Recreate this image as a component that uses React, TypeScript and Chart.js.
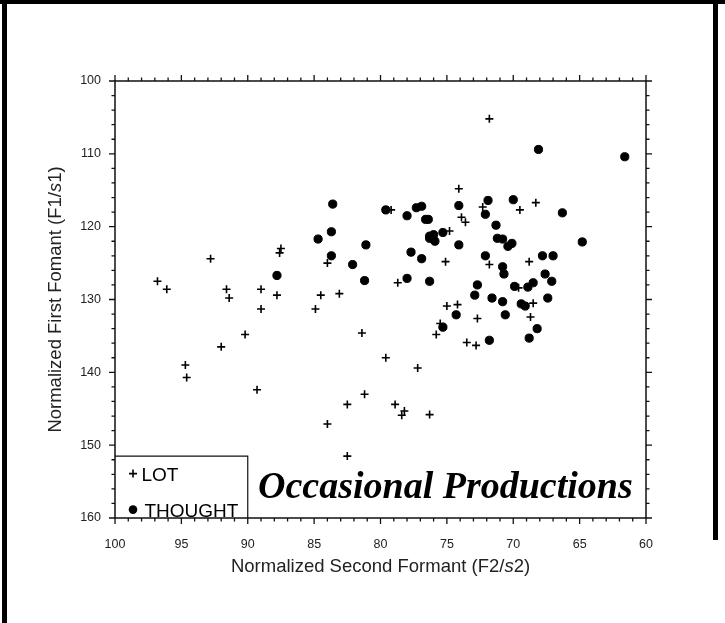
import React, { useEffect, useRef } from "react";
import { Chart, registerables } from "chart.js";
Chart.register(...registerables);

// LOT tokens: normalized F2 (x) and F1 (y)
const lotF2 = [71.8, 74.1, 79.2, 72.3, 73.9, 73.6, 74.8, 84.0, 75.1, 71.8, 69.5, 68.3, 68.8, 96.8, 96.1, 91.6, 91.4, 89.0, 89.0, 87.8, 92.8, 87.5, 87.6, 90.2, 92.0, 94.7, 94.6, 89.3, 78.7, 84.5, 83.1, 84.9, 75.0, 74.2, 75.5, 75.8, 72.7, 73.5, 72.8, 81.4, 79.6, 77.2, 81.2, 82.5, 78.9, 78.2, 78.4, 76.3, 84.0, 82.5, 69.6, 68.5, 68.7];
const lotF1 = [105.2, 114.8, 117.7, 117.3, 118.7, 119.4, 120.6, 125.0, 124.8, 125.2, 117.7, 116.7, 124.8, 127.5, 128.6, 128.6, 129.8, 128.6, 131.3, 129.4, 124.4, 123.0, 123.6, 134.8, 136.5, 139.0, 140.7, 142.4, 127.7, 129.4, 129.2, 131.3, 130.9, 130.7, 133.3, 134.8, 132.6, 135.9, 136.3, 134.6, 138.0, 139.4, 143.0, 144.4, 144.4, 145.3, 145.9, 145.8, 147.1, 151.5, 128.4, 130.5, 132.4];

// THOUGHT tokens
const thoughtF2 = [83.6, 79.6, 78.0, 77.3, 76.9, 74.1, 71.9, 72.1, 76.6, 76.4, 71.3, 71.2, 83.7, 84.7, 81.1, 76.3, 76.0, 76.3, 75.9, 75.3, 74.1, 83.7, 77.7, 76.9, 82.1, 72.1, 68.1, 61.6, 70.0, 66.3, 70.8, 70.4, 70.1, 64.8, 70.8, 67.8, 67.0, 87.8, 81.2, 78.0, 76.3, 72.7, 72.9, 71.6, 74.3, 75.3, 71.8, 70.7, 67.6, 67.1, 69.9, 68.9, 68.5, 70.8, 69.4, 69.1, 67.4, 70.6, 68.2, 68.8];
const thoughtF1 = [116.9, 117.7, 118.5, 117.4, 117.2, 117.1, 116.4, 118.3, 119.0, 119.0, 119.8, 121.6, 120.7, 121.7, 122.5, 121.3, 121.1, 121.6, 122.0, 120.8, 122.5, 124.0, 123.5, 124.4, 125.2, 124.0, 109.4, 110.4, 116.3, 118.1, 121.7, 122.7, 122.3, 122.1, 125.5, 124.0, 124.0, 126.7, 127.4, 127.1, 127.5, 128.0, 129.4, 129.8, 132.1, 133.8, 135.6, 126.5, 126.5, 127.5, 128.2, 128.3, 127.7, 130.3, 130.6, 130.9, 129.8, 132.1, 134.0, 135.3];

const xTickValues = [100, 95, 90, 85, 80, 75, 70, 65, 60];
const yTickValues = [100, 110, 120, 130, 140, 150, 160];
const seriesNames = ["LOT", "THOUGHT"];
const xTitleParts = ["Normalized Second Formant (F2/", "s", "2)"];
const yTitleParts = ["Normalized First Fomant (F1/", "s", "1)"];
const stampText = "Occasional Productions";

const SANS = "'Liberation Sans', Arial, sans-serif";
const SERIF = "'Liberation Serif', 'Times New Roman', serif";

function toPoints(xs: number[], ys: number[]) {
  return xs.map((x, i) => ({ x, y: ys[i] }));
}

function drawMixed(ctx: CanvasRenderingContext2D, parts: string[], cx: number, cy: number, size: number) {
  const fonts = [`${size}px ${SANS}`, `italic ${size}px ${SANS}`, `${size}px ${SANS}`];
  let total = 0;
  const widths = parts.map((p, i) => {
    ctx.font = fonts[i];
    const w = ctx.measureText(p).width;
    total += w;
    return w;
  });
  let x = cx - total / 2;
  ctx.textBaseline = "middle";
  ctx.textAlign = "left";
  parts.forEach((p, i) => {
    ctx.font = fonts[i];
    ctx.fillText(p, x, cy);
    x += widths[i];
  });
}

const decorPlugin = {
  id: "decor",
  afterDraw(chart: any) {
    const ctx: CanvasRenderingContext2D = chart.ctx;
    const xs = chart.scales.x;
    const ys = chart.scales.y;
    const { left: L, right: R, top: T, bottom: B } = chart.chartArea;
    ctx.save();

    // outer frame
    ctx.fillStyle = "#000";
    ctx.fillRect(2, 0, 5, 623);
    ctx.fillRect(0, 0, 725, 4);
    ctx.fillRect(713, 0, 5, 540);

    // axis box
    ctx.strokeStyle = "#111";
    ctx.lineWidth = 1.5;
    ctx.strokeRect(L, T, R - L, B - T);

    // ticks
    ctx.lineWidth = 1.3;
    ctx.beginPath();
    for (let v = 60; v <= 100; v += 1) {
      const px = xs.getPixelForValue(v);
      const len = v % 5 === 0 ? 6 : 3.5;
      ctx.moveTo(px, B);
      ctx.lineTo(px, B + len);
      ctx.moveTo(px, T);
      ctx.lineTo(px, T - len);
    }
    for (let v = 100; v <= 160; v += 2) {
      const py = ys.getPixelForValue(v);
      const len = v % 10 === 0 ? 6 : 3.5;
      ctx.moveTo(L, py);
      ctx.lineTo(L - len, py);
      ctx.moveTo(R, py);
      ctx.lineTo(R + len, py);
    }
    ctx.stroke();

    // legend box
    const boxTop = ys.getPixelForValue(151.5);
    const boxRight = xs.getPixelForValue(90);
    ctx.lineWidth = 1.2;
    ctx.beginPath();
    ctx.moveTo(L, boxTop);
    ctx.lineTo(boxRight, boxTop);
    ctx.lineTo(boxRight, B);
    ctx.stroke();

    // legend items
    const mx = L + 18;
    const y1 = boxTop + 17.5;
    const y2 = boxTop + 53.5;
    ctx.lineWidth = 1.6;
    ctx.strokeStyle = "#000";
    ctx.beginPath();
    ctx.moveTo(mx - 4, y1);
    ctx.lineTo(mx + 4, y1);
    ctx.moveTo(mx, y1 - 4);
    ctx.lineTo(mx, y1 + 4);
    ctx.stroke();
    ctx.fillStyle = "#000";
    ctx.beginPath();
    ctx.arc(mx, y2, 4.3, 0, Math.PI * 2);
    ctx.fill();
    ctx.font = `19px ${SANS}`;
    ctx.textAlign = "left";
    ctx.textBaseline = "alphabetic";
    ctx.fillText(seriesNames[0], L + 26.5, boxTop + 25);
    ctx.fillText(seriesNames[1], L + 29.5, boxTop + 61);

    // stamp
    ctx.font = `italic bold 38px ${SERIF}`;
    ctx.fillText(stampText, 258, 498);

    // axis titles
    ctx.fillStyle = "#222";
    drawMixed(ctx, xTitleParts, (L + R) / 2, 567, 18.5);
    ctx.save();
    ctx.translate(56, (T + B) / 2);
    ctx.rotate(-Math.PI / 2);
    drawMixed(ctx, yTitleParts, 0, 0, 18.5);
    ctx.restore();

    ctx.restore();
  },
};

export default function App() {
  const ref = useRef<HTMLCanvasElement | null>(null);
  useEffect(() => {
    if (!ref.current) return;
    const chart = new Chart(ref.current, {
      type: "scatter",
      data: {
        datasets: [
          {
            label: seriesNames[0],
            data: toPoints(lotF2, lotF1),
            pointStyle: "cross",
            radius: 4,
            borderColor: "#000",
            backgroundColor: "#000",
            borderWidth: 1.6,
          },
          {
            label: seriesNames[1],
            data: toPoints(thoughtF2, thoughtF1),
            pointStyle: "circle",
            radius: 4.1,
            borderColor: "#000",
            backgroundColor: "#000",
            borderWidth: 1,
          },
        ],
      },
      options: {
        responsive: false,
        animation: false,
        events: [],
        layout: { padding: { left: 35, top: 81, right: 79, bottom: 45 } },
        plugins: { legend: { display: false }, tooltip: { enabled: false } },
        scales: {
          x: {
            type: "linear",
            min: 60,
            max: 100,
            reverse: true,
            grid: { display: false, drawTicks: false },
            border: { display: false },
            afterBuildTicks: (s: any) => {
              s.ticks = xTickValues.map((v) => ({ value: v }));
            },
            afterFit: (s: any) => {
              s.height = 60;
            },
            ticks: {
              padding: 19,
              color: "#222",
              font: { family: SANS, size: 12.5 },
              maxRotation: 0,
              autoSkip: false,
            },
          },
          y: {
            type: "linear",
            min: 100,
            max: 160,
            reverse: true,
            grid: { display: false, drawTicks: false },
            border: { display: false },
            afterBuildTicks: (s: any) => {
              s.ticks = yTickValues.map((v) => ({ value: v }));
            },
            afterFit: (s: any) => {
              s.width = 80;
            },
            ticks: {
              padding: 14,
              color: "#222",
              font: { family: SANS, size: 12.5 },
              autoSkip: false,
            },
          },
        },
      },
      plugins: [decorPlugin],
    });
    return () => chart.destroy();
  }, []);
  return (
    <div style={{ position: "absolute", left: 0, top: 0, width: 725, height: 623, background: "#fff" }}>
      <canvas ref={ref} width={725} height={623} style={{ display: "block" }} />
    </div>
  );
}
